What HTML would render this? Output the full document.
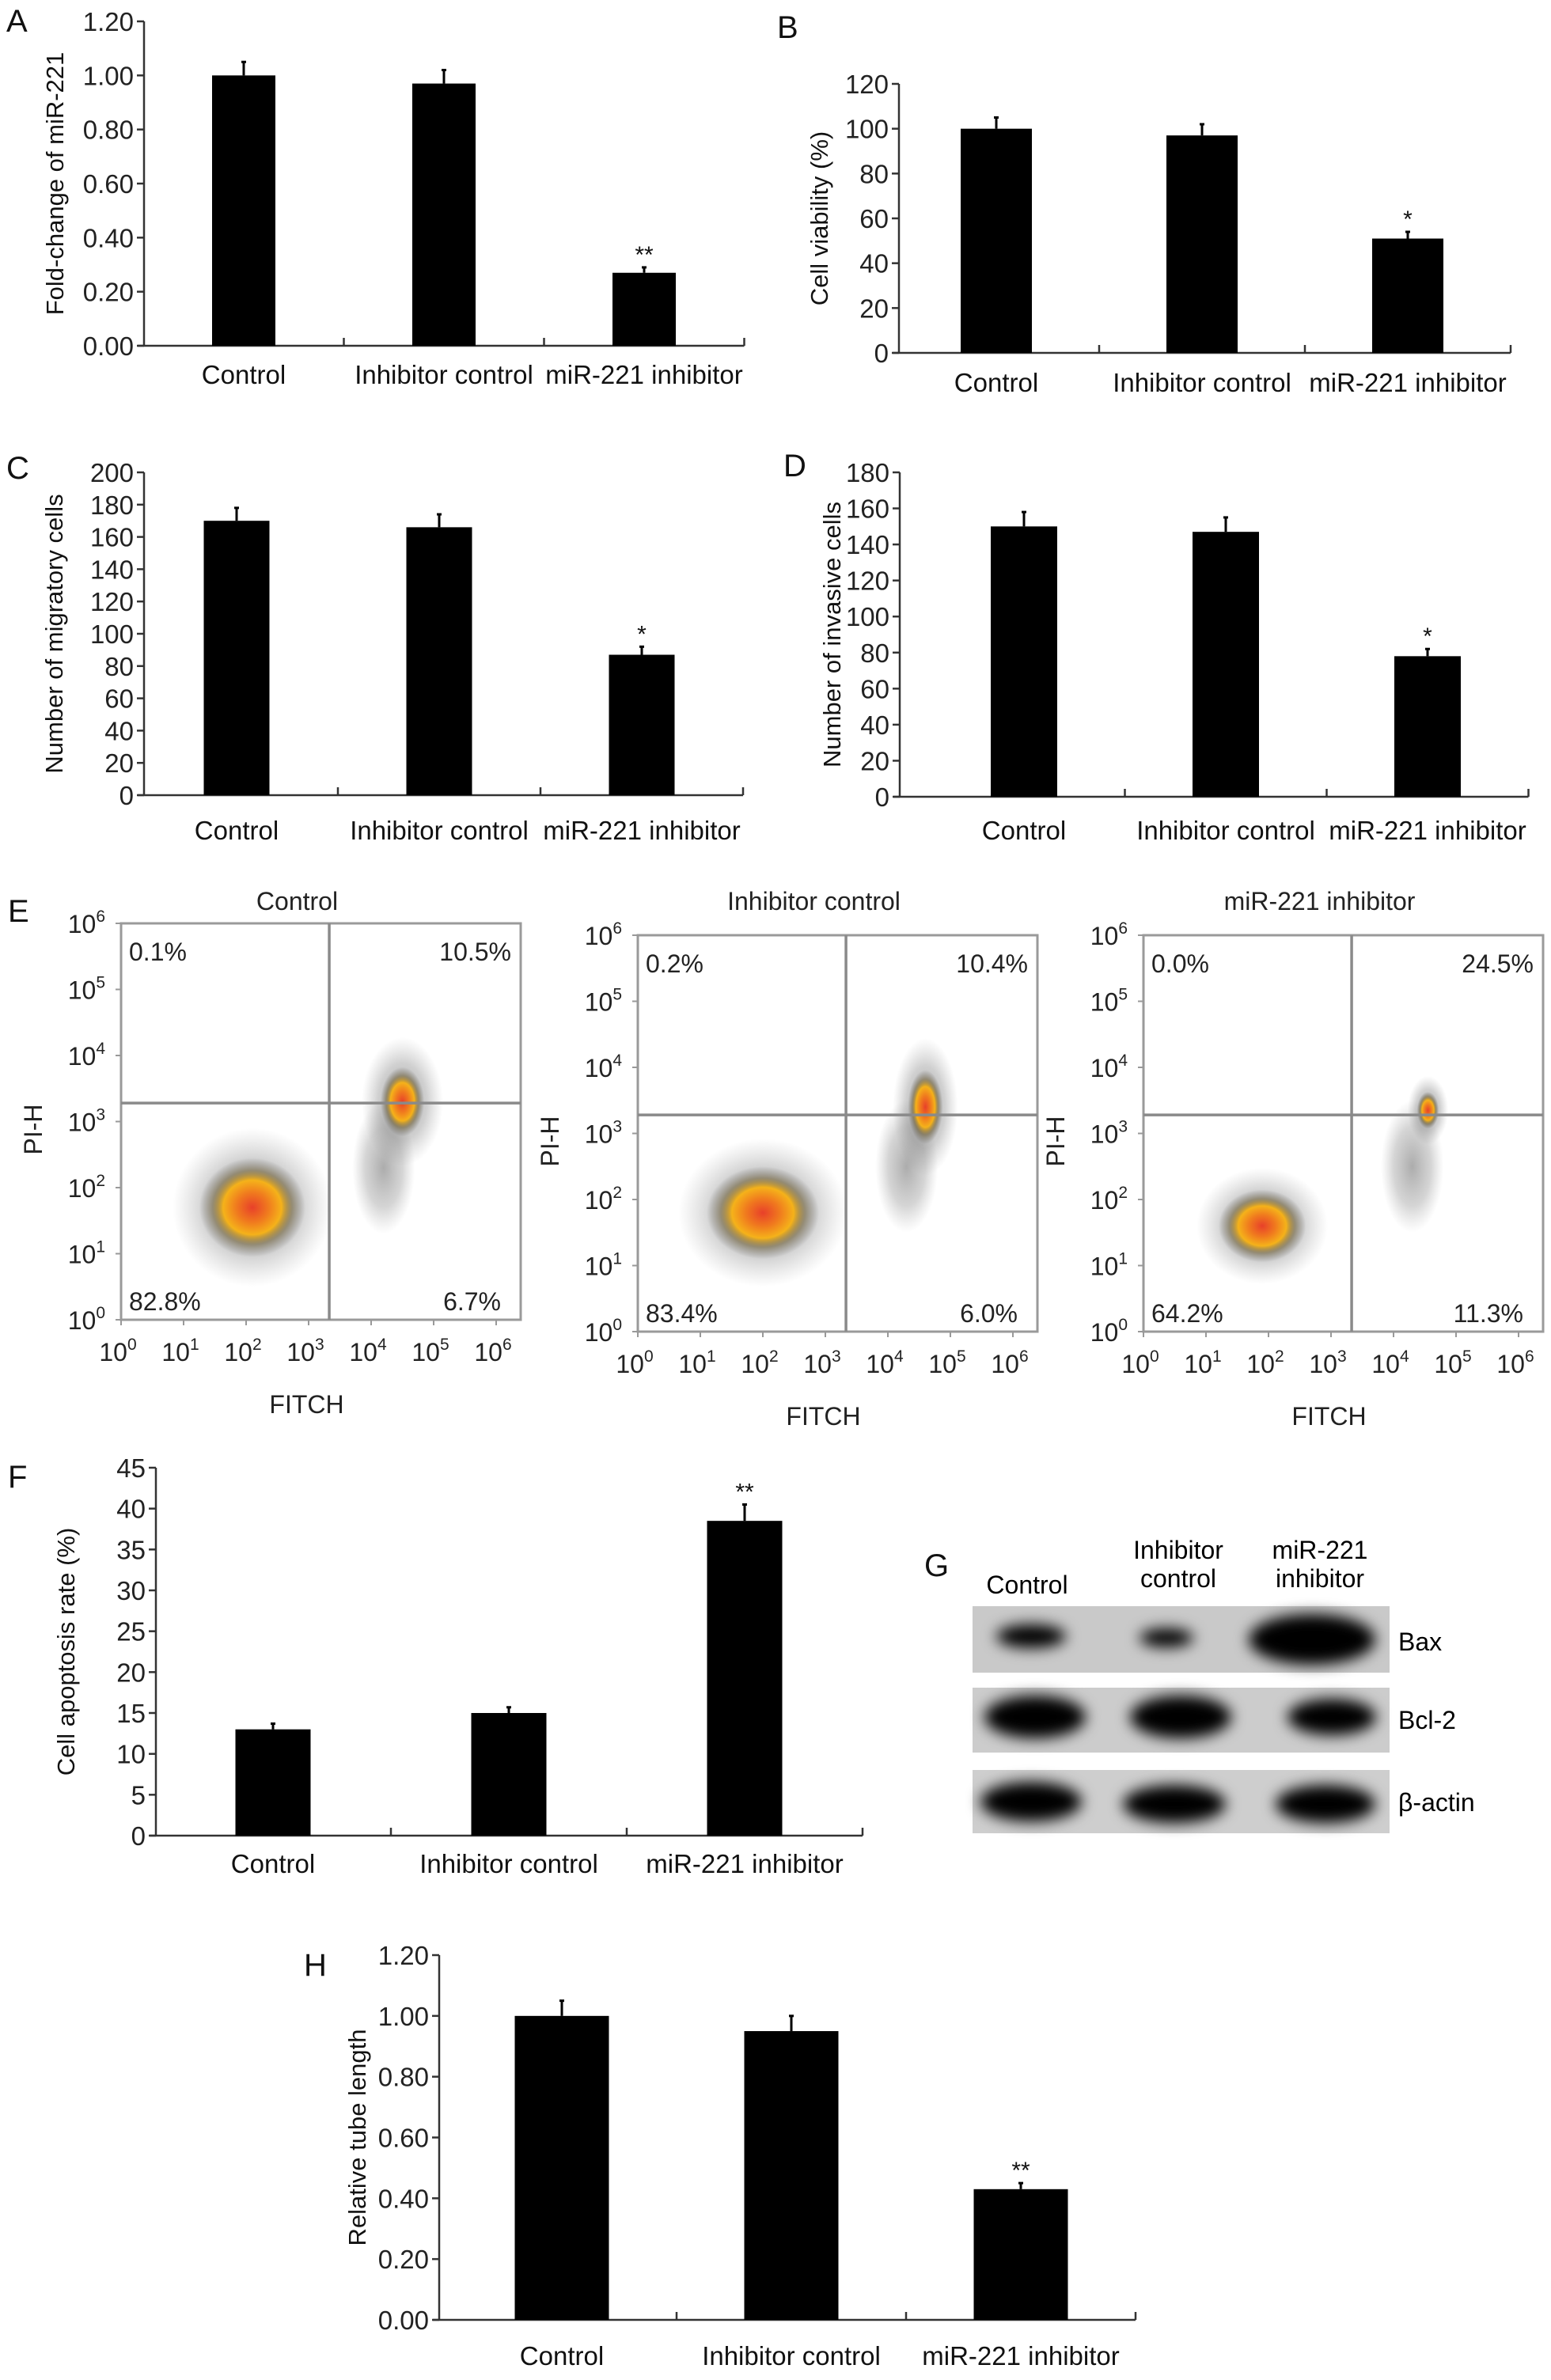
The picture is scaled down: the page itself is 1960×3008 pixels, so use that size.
<!DOCTYPE html>
<html><head><meta charset="utf-8"><style>
html,body{margin:0;padding:0;background:#fff}
svg{display:block;font-family:"Liberation Sans",Arial,sans-serif}
</style></head><body>
<svg id="fig" width="1960" height="3008" viewBox="0 0 1960 3008" xmlns="http://www.w3.org/2000/svg">
<defs>
<radialGradient id="core" cx="50%" cy="50%" r="50%">
<stop offset="0" stop-color="#e8402a"/><stop offset="0.3" stop-color="#f07a1e"/><stop offset="0.55" stop-color="#f5b21a"/><stop offset="0.75" stop-color="#6a5a30" stop-opacity="0.55"/><stop offset="1" stop-color="#555" stop-opacity="0"/>
</radialGradient>
<radialGradient id="halo" cx="50%" cy="50%" r="50%">
<stop offset="0" stop-color="#333" stop-opacity="0.45"/><stop offset="0.6" stop-color="#444" stop-opacity="0.25"/><stop offset="1" stop-color="#666" stop-opacity="0"/>
</radialGradient>
<filter id="blur" x="-50%" y="-50%" width="200%" height="200%"><feGaussianBlur stdDeviation="9"/></filter>
</defs>
<g id="letters" font-size="40" fill="#111">
<text x="8" y="40">A</text>
<text x="982" y="48">B</text>
<text x="8" y="605">C</text>
<text x="990" y="602">D</text>
<text x="10" y="1165">E</text>
<text x="10" y="1880">F</text>
<text x="1168" y="1992">G</text>
<text x="384" y="2497">H</text>
</g>
<g id="blot">
<text x="1298" y="2014" font-size="32" text-anchor="middle">Control</text>
<text x="1489" y="1970" font-size="32" text-anchor="middle">Inhibitor</text>
<text x="1489" y="2006" font-size="32" text-anchor="middle">control</text>
<text x="1668" y="1970" font-size="32" text-anchor="middle">miR-221</text>
<text x="1668" y="2006" font-size="32" text-anchor="middle">inhibitor</text>
<rect x="1229" y="2030" width="527" height="84" fill="#c9c9c9"/>
<rect x="1229" y="2133" width="527" height="82" fill="#cccccc"/>
<rect x="1229" y="2237" width="527" height="80" fill="#cecece"/>
<g filter="url(#blur)" fill="#050505">
<ellipse cx="1303" cy="2068" rx="44" ry="15"/>
<ellipse cx="1474" cy="2070" rx="34" ry="12"/>
<ellipse cx="1658" cy="2072" rx="80" ry="32"/>
<ellipse cx="1308" cy="2170" rx="64" ry="27"/>
<ellipse cx="1492" cy="2170" rx="64" ry="27"/>
<ellipse cx="1683" cy="2170" rx="56" ry="23"/>
<ellipse cx="1303" cy="2277" rx="64" ry="25"/>
<ellipse cx="1484" cy="2280" rx="65" ry="24"/>
<ellipse cx="1675" cy="2280" rx="63" ry="24"/>
</g>
<text x="1767" y="2086" font-size="32">Bax</text>
<text x="1767" y="2185" font-size="32">Bcl-2</text>
<text x="1767" y="2289" font-size="32">β-actin</text>
</g>
</svg>
<script>
const NS='http://www.w3.org/2000/svg';
const svg=document.getElementById('fig');
function mk(tag,attrs,parent){const e=document.createElementNS(NS,tag);for(const k in attrs)e.setAttribute(k,attrs[k]);(parent||svg).appendChild(e);return e;}

// ---- bar chart data ----
const categories=['Control','Inhibitor control','miR-221 inhibitor'];
const aValues=[1.00,0.97,0.27];
const aErrors=[0.05,0.05,0.02];
const aSig=['','','**'];
const aTicks=['0.00','0.20','0.40','0.60','0.80','1.00','1.20'];
const bValues=[100,97,51];
const bErrors=[5,5,3];
const bSig=['','','*'];
const bTicks=['0','20','40','60','80','100','120'];
const cValues=[170,166,87];
const cErrors=[8,8,5];
const cSig=['','','*'];
const cTicks=['0','20','40','60','80','100','120','140','160','180','200'];
const dValues=[150,147,78];
const dErrors=[8,8,4];
const dSig=['','','*'];
const dTicks=['0','20','40','60','80','100','120','140','160','180'];
const fValues=[13,15,38.5];
const fErrors=[0.7,0.7,2];
const fSig=['','','**'];
const fTicks=['0','5','10','15','20','25','30','35','40','45'];
const hValues=[1.00,0.95,0.43];
const hErrors=[0.05,0.05,0.02];
const hSig=['','','**'];
const hTicks=['0.00','0.20','0.40','0.60','0.80','1.00','1.20'];

// ---- flow cytometry data (log10 units) ----
const flowTitles=['Control','Inhibitor control','miR-221 inhibitor'];
const flowUL=['0.1%','0.2%','0.0%'];
const flowUR=['10.5%','10.4%','24.5%'];
const flowLL=['82.8%','83.4%','64.2%'];
const flowLR=['6.7%','6.0%','11.3%'];
const flowMainX=[2.1,2.0,1.9];
const flowMainY=[1.7,1.8,1.6];
const flowMainSX=[0.85,0.9,0.7];
const flowMainSY=[0.75,0.7,0.55];
const flowHiX=[4.5,4.6,4.55];
const flowHiY=[3.3,3.4,3.35];
const flowHiSX=[0.5,0.4,0.25];
const flowHiSY=[0.75,0.8,0.4];
const flowTailX=[4.2,4.3,4.3];
const flowTailY=[2.3,2.5,2.5];

function barChart(name,cfg,values,errors,sig,ticks){
  const g=mk('g',{});
  
  
  const maxV=parseFloat(ticks[ticks.length-1]);
  const y=v=>cfg.bottom-(v/maxV)*(cfg.bottom-cfg.top);
  const cx=i=>cfg.c0+i*cfg.band;
  const xEnd=cx(2)+cfg.band/2;
  const yl=mk('line',{x1:cfg.ax,y1:cfg.top,x2:cfg.ax,y2:cfg.bottom,stroke:'#333','stroke-width':2.5},g);
  
  
  const xl=mk('line',{x1:cfg.ax-8,y1:cfg.bottom,x2:xEnd,y2:cfg.bottom,stroke:'#333','stroke-width':2.5},g);
  
  
  ticks.forEach((t,i)=>{
    const v=parseFloat(t);const yy=y(v);
    mk('line',{x1:cfg.ax-9,y1:yy,x2:cfg.ax,y2:yy,stroke:'#333','stroke-width':2.5},g);
    const tx=mk('text',{x:cfg.ax-13,y:yy+12,'font-size':33,'text-anchor':'end',fill:'#222'},g);
    tx.textContent=t;
    
    
  });
  for(let i=0;i<3;i++){
    const xb=cx(i)+cfg.band/2;
    mk('line',{x1:xb,y1:cfg.bottom,x2:xb,y2:cfg.bottom-10,stroke:'#333','stroke-width':2.5},g);
  }
  values.forEach((v,i)=>{
    const w=cfg.bw;const x0=cx(i)-w/2;
    const r=mk('rect',{x:x0,y:y(v),width:w,height:cfg.bottom-y(v),fill:'#000'},g);
    
    
    const et=y(v+errors[i]);
    const e=mk('line',{x1:cx(i),y1:y(v),x2:cx(i),y2:et,stroke:'#000','stroke-width':3},g);
    
    
    mk('line',{x1:cx(i)-3,y1:et,x2:cx(i)+3,y2:et,stroke:'#000','stroke-width':3},g);
    if(sig[i]){
      const s=mk('text',{x:cx(i),y:et-6,'font-size':30,'text-anchor':'middle',fill:'#111'},g);
      s.textContent=sig[i];
      
      
    }
    const lb=mk('text',{x:cx(i),y:cfg.labelY,'font-size':33,'text-anchor':'middle',fill:'#111'},g);
    lb.textContent=categories[i];
    
    
  });
  const ty=(cfg.top+cfg.bottom)/2;
  const tt=mk('text',{x:cfg.titleX,y:ty,'font-size':31,'text-anchor':'middle',fill:'#111',transform:`rotate(-90 ${cfg.titleX} ${ty})`},g);
  tt.textContent=cfg.title;
  
  
}

barChart('chart-a-fold-change',{ax:182,top:27,bottom:437,c0:308,band:253,bw:80,labelY:485,titleX:80,title:'Fold-change of miR-221'},aValues,aErrors,aSig,aTicks);
barChart('chart-b-cell-viability',{ax:1136,top:106,bottom:446,c0:1259,band:260,bw:90,labelY:495,titleX:1046,title:'Cell viability (%)'},bValues,bErrors,bSig,bTicks);
barChart('chart-c-migratory',{ax:182,top:597,bottom:1005,c0:299,band:256,bw:83,labelY:1061,titleX:79,title:'Number of migratory cells'},cValues,cErrors,cSig,cTicks);
barChart('chart-d-invasive',{ax:1137,top:597,bottom:1007,c0:1294,band:255,bw:84,labelY:1061,titleX:1062,title:'Number of invasive cells'},dValues,dErrors,dSig,dTicks);
barChart('chart-f-apoptosis',{ax:197,top:1855,bottom:2320,c0:345,band:298,bw:95,labelY:2367,titleX:94,title:'Cell apoptosis rate (%)'},fValues,fErrors,fSig,fTicks);
barChart('chart-h-tube-length',{ax:555,top:2471,bottom:2932,c0:710,band:290,bw:119,labelY:2989,titleX:462,title:'Relative tube length'},hValues,hErrors,hSig,hTicks);

// ---- flow plots ----
const flowL=[153,806,1445];
const flowT=[1167,1182,1182];
flowTitles.forEach((title,p)=>{
  const L=flowL[p],T=flowT[p],W=505,H=501;
  const dx=79,dy=H/6;
  const X=v=>L+v*dx, Y=v=>T+H-v*dy;
  const g=mk('g',{});
  
  
  const h1=mk('ellipse',{cx:X(flowMainX[p]),cy:Y(flowMainY[p]),rx:flowMainSX[p]*dx*1.5,ry:flowMainSY[p]*dy*1.6,fill:'url(#halo)'},g);
  
  
  const c1=mk('ellipse',{cx:X(flowMainX[p]),cy:Y(flowMainY[p]),rx:flowMainSX[p]*dx,ry:flowMainSY[p]*dy,fill:'url(#core)'},g);
  
  
  const t1=mk('ellipse',{cx:X(flowTailX[p]),cy:Y(flowTailY[p]),rx:0.5*dx,ry:1.0*dy,fill:'url(#halo)',opacity:0.9},g);
  
  
  const h2=mk('ellipse',{cx:X(flowHiX[p]),cy:Y(flowHiY[p]),rx:flowHiSX[p]*dx*1.3,ry:flowHiSY[p]*dy*1.3,fill:'url(#halo)'},g);
  
  
  const c2=mk('ellipse',{cx:X(flowHiX[p]),cy:Y(flowHiY[p]),rx:flowHiSX[p]*dx*0.7,ry:flowHiSY[p]*dy*0.7,fill:'url(#core)'},g);
  
  
  const b=mk('rect',{x:L,y:T,width:W,height:H,fill:'none',stroke:'#9a9a9a','stroke-width':3},g);
  
  
  const qx=X(3.33),qy=Y(3.28);
  const vq=mk('line',{x1:qx,y1:T,x2:qx,y2:T+H,stroke:'#8a8a8a','stroke-width':3.5},g);
  
  
  const hq=mk('line',{x1:L,y1:qy,x2:L+W,y2:qy,stroke:'#8a8a8a','stroke-width':3.5},g);
  
  
  for(let d=0;d<=6;d++){
    const ty=mk('text',{x:L-20,y:Y(d)+12,'font-size':32,'text-anchor':'end',fill:'#222'},g);
    ty.innerHTML='10<tspan dy="-14" font-size="21">'+d+'</tspan>';
    
    
    const tx=mk('text',{x:X(d)-4,y:T+H+52,'font-size':32,'text-anchor':'middle',fill:'#222'},g);
    tx.innerHTML='10<tspan dy="-14" font-size="21">'+d+'</tspan>';
    
    
    mk('line',{x1:X(d),y1:T+H,x2:X(d),y2:T+H+7,stroke:'#999','stroke-width':2},g);
    mk('line',{x1:L-7,y1:Y(d),x2:L,y2:Y(d),stroke:'#999','stroke-width':2},g);
  }
  const mkT=(txt,x,y,anchor,nm,fs)=>{const t=mk('text',{x:x,y:y,'font-size':fs||32,'text-anchor':anchor,fill:'#222'},g);t.textContent=txt;return t;};
  mkT(title,L+W/2-30,1150,'middle','flow-title',32);
  mkT(flowUL[p],L+10,T+47,'start','quadrant-ul-percent');
  mkT(flowUR[p],L+W-12,T+47,'end','quadrant-ur-percent');
  mkT(flowLL[p],L+10,T+H-12,'start','quadrant-ll-percent');
  mkT(flowLR[p],L+W-25,T+H-12,'end','quadrant-lr-percent');
  mkT('FITCH',L+W/2-18,T+H+118,'middle','x-axis-title',32);
  const py=T+H/2+10, px=L-100;
  const pt=mkT('PI-H',px,py,'middle','y-axis-title',32);
  pt.setAttribute('transform',`rotate(-90 ${px} ${py})`);
});
</script>
</body></html>
